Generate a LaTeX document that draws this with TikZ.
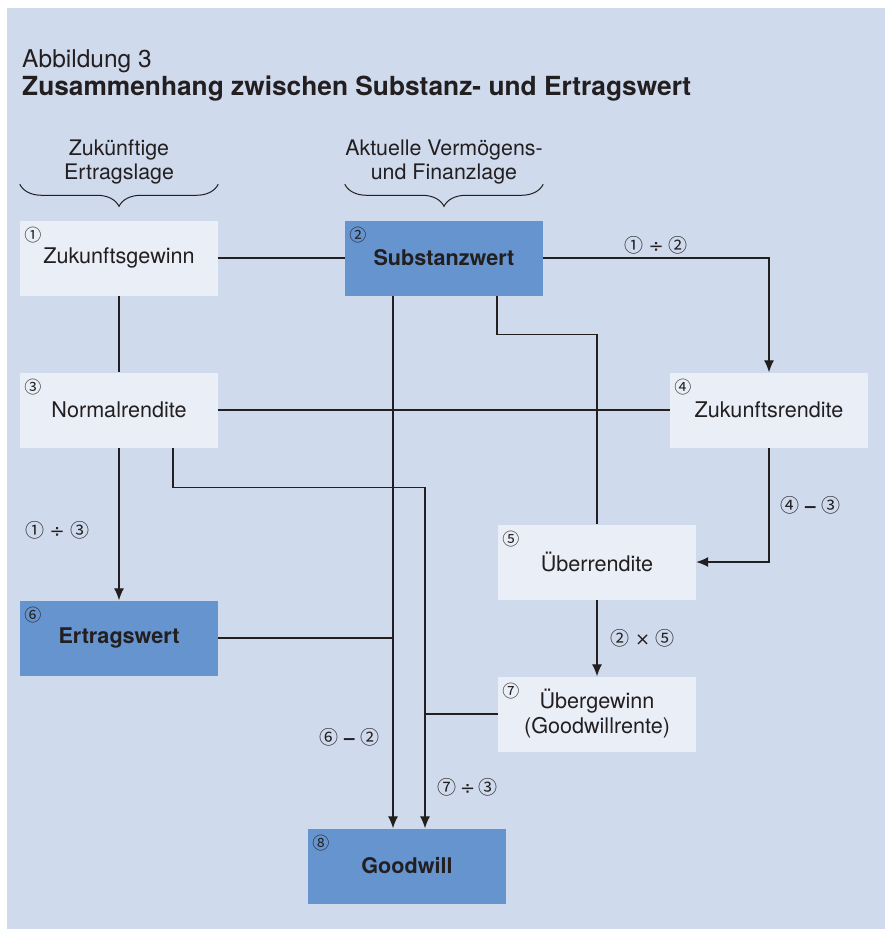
\documentclass[tikz,border=0pt]{standalone}
\usepackage{fontspec}
\setmainfont{TeX Gyre Heros}
\newfontfamily\circfont{Noto Sans CJK SC}
\newfontfamily\opfont{DejaVu Sans}
\newcommand{\cnum}[1]{{\circfont\fontsize{19}{19}\selectfont #1}}
\newcommand{\cop}[1]{{\opfont\fontsize{18}{18}\selectfont #1}}
\usetikzlibrary{arrows.meta, decorations.pathreplacing}
\definecolor{panel}{RGB}{207,218,237}
\definecolor{boxlight}{RGB}{233,238,247}
\definecolor{boxdark}{RGB}{102,148,206}
\definecolor{ink}{RGB}{35,31,32}
\tikzstyle{block} = [rectangle, fill=boxlight, minimum width=198pt,
    minimum height=75pt, text centered, align=center, font=\fontsize{21.6}{25}\selectfont]
\tikzstyle{keyblock} = [block, fill=boxdark, font=\fontsize{21.6}{25}\selectfont\bfseries]
\tikzstyle{head} = [align=center, font=\fontsize{21.4}{24}\selectfont]
\tikzstyle{num} = [inner sep=0pt, font=\circfont\fontsize{17}{17}\selectfont]
\tikzstyle{calc} = [font=\fontsize{19}{19}\selectfont]
\tikzstyle{link} = [draw, line width=1.2pt, color=ink]
\tikzstyle{line} = [link, -{Latex[length=12pt,width=10pt]}]
\tikzstyle{brace} = [draw, line width=1pt, color=ink, decorate,
    decoration={brace, mirror, amplitude=22pt}]

\begin{document}
\begin{tikzpicture}[node distance=152pt, text=ink]
    % Frame and title
    \useasboundingbox (0pt,0pt) rectangle (885pt,-931pt);
    \fill [panel] (7pt,-8pt) rectangle (885pt,-929pt);
    \node [anchor=base west, inner sep=0pt, font=\fontsize{24.5}{24.5}\selectfont] (fig) at (22pt,-68pt) {Abbildung 3};
    \node [anchor=base west, inner sep=0pt, font=\fontsize{26.3}{26.3}\selectfont\bfseries] (title) at (22pt,-96pt) {Zusammenhang zwischen Substanz- und Ertragswert};
    % Place nodes
    \node [block] (zg) at (119pt,-258pt) {Zukunftsgewinn};
    \node [keyblock, right of=zg, node distance=325pt] (sw) {Substanzwert};
    \node [block, below of=zg] (nr) {Normalrendite};
    \node [block, right of=nr, node distance=650pt] (zr) {Zukunftsrendite};
    \node [block, below of=zr, xshift=-172pt] (ur) {Überrendite};
    \node [block, below of=ur] (ug) {Übergewinn\\(Goodwillrente)};
    \node [keyblock, below of=nr, node distance=228pt] (ew) {Ertragswert};
    \node [keyblock, below of=ew, node distance=228pt, xshift=288pt] (gw) {Goodwill};
    % Numbers in the corners
    \node [num] (n1) at ([shift={(13pt,-15pt)}]zg.north west) {①};
    \node [num] (n2) at ([shift={(13pt,-15pt)}]sw.north west) {②};
    \node [num] (n3) at ([shift={(13pt,-15pt)}]nr.north west) {③};
    \node [num] (n4) at ([shift={(13pt,-15pt)}]zr.north west) {④};
    \node [num] (n5) at ([shift={(13pt,-15pt)}]ur.north west) {⑤};
    \node [num] (n6) at ([shift={(13pt,-15pt)}]ew.north west) {⑥};
    \node [num] (n7) at ([shift={(13pt,-15pt)}]ug.north west) {⑦};
    \node [num] (n8) at ([shift={(13pt,-15pt)}]gw.north west) {⑧};
    % Braces
    \draw [brace] ([yshift=36pt]zg.north west) -- ([yshift=36pt]zg.north east);
    \draw [brace] ([yshift=36pt]sw.north west) -- ([yshift=36pt]sw.north east);
    \node [head, above of=zg, node distance=96pt] (ertrag) {Zukünftige\\Ertragslage};
    \node [head, above of=sw, node distance=96pt] (lage) {Aktuelle Vermögens-\\und Finanzlage};
    % Draw edges
    \coordinate (swfoot) at ([xshift=-51pt]sw.south);
    \coordinate (nrfoot) at ([xshift=54pt]nr.south);
    \coordinate (gwin) at ([xshift=18pt]gw.north);
    \path [link] (zg) -- (sw);
    \path [link] (zg) -- (nr);
    \path [line] (sw) -| node [pos=0.25, above, calc] {\cnum{①} \cop{÷} \cnum{②}} (zr);
    \path [link] (nr) -- (zr);
    \path [line] (nr) -- node [pos=0.54, left, calc, xshift=-26pt] {\cnum{①} \cop{÷} \cnum{③}} (ew);
    \path [line] (zr) |- node [pos=0.25, right, calc, xshift=8pt] {\cnum{④} \textbf{–} \cnum{③}} (ur);
    \path [link] ([xshift=53pt]sw.south) -- ++(0pt,-39pt) -| (ur);
    \path [line] (swfoot) -- node [pos=0.83, left, calc, xshift=-10pt] {\cnum{⑥} \textbf{–} \cnum{②}} (swfoot |- gw.north);
    \path [link] (ew) -- (ew -| swfoot);
    \path [line] (nrfoot) -- ++(0pt,-40pt) -| node [pos=0.94, right, calc, xshift=9pt] {\cnum{⑦}\,\cop{÷}\,\cnum{③}} (gwin);
    \path [link] (ug) -- (ug -| gwin);
    \path [line] (ur) -- node [right, calc, xshift=10pt] {\cnum{②} \cop{×} \cnum{⑤}} (ug);
\end{tikzpicture}
\end{document}
